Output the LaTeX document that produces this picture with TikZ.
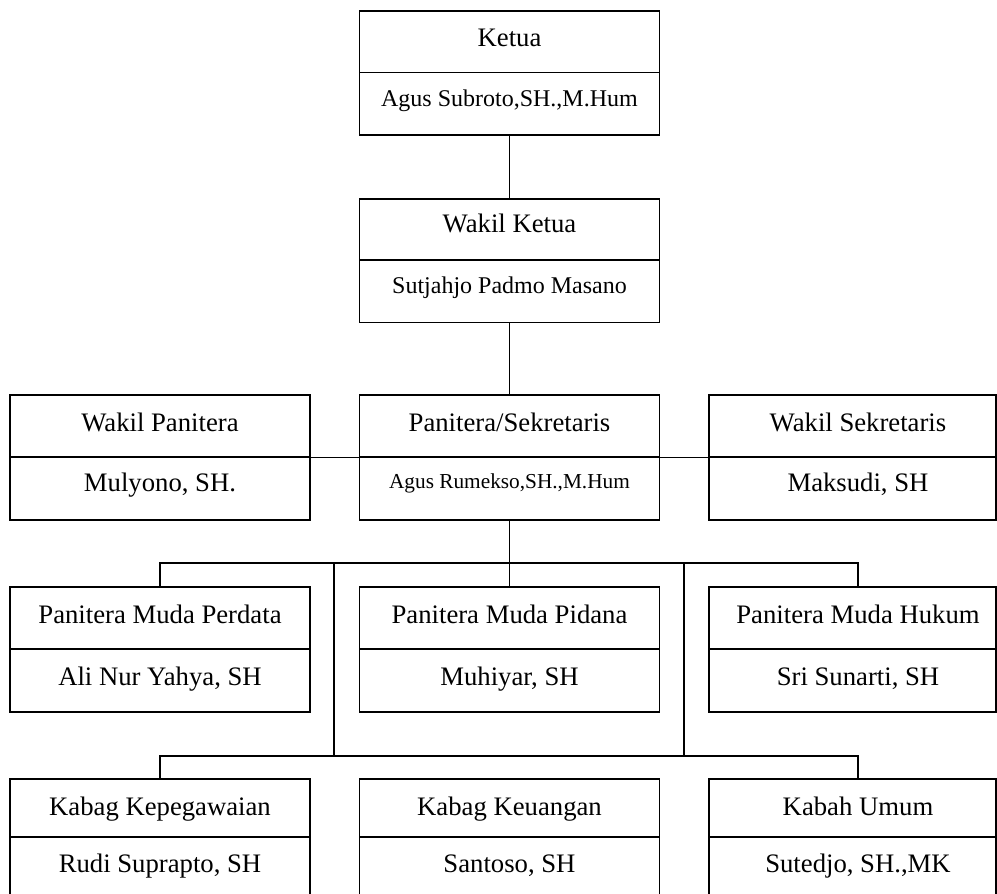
\documentclass[tikz,border=0pt]{standalone}
\usepackage{fontspec}
\setmainfont{Liberation Serif}
\begin{document}
\begin{tikzpicture}[x=1pt,y=-1pt,line width=1.3pt,
  half/.style={draw,rectangle,inner sep=0pt,minimum width=300pt,line width=1.3pt},
  halfr/.style={half,minimum width=287pt},
  lbl/.style={anchor=base,inner sep=0pt,font=\fontsize{26.7}{30}\selectfont},
  lbls/.style={lbl,font=\fontsize{24}{28}\selectfont},
  lblxs/.style={lbl,font=\fontsize{21.3}{25}\selectfont}]
\useasboundingbox (0,0) rectangle (997,894);
% Row 1
\node[half,minimum height=61.7pt] (kt) at (509.5,41.85) {};
\node[half,minimum height=62.3pt] (kn) at (509.5,103.85) {};
\node[lbl] (kttx) at (509.5,46.7) {Ketua};
\node[lbls] (kntx) at (509.5,106.7) {Agus Subroto,SH.,M.Hum};
% Row 2
\node[half,minimum height=61pt] (wkt) at (509.5,229.5) {};
\node[half,minimum height=62.7pt] (wkn) at (509.5,291.35) {};
\node[lbl] (wkttx) at (509.5,232) {Wakil Ketua};
\node[lbls] (wkntx) at (509.5,293) {Sutjahjo Padmo Masano};
% Row 3
\node[half,minimum height=62pt] (wpt) at (160,426) {};
\node[half,minimum height=63pt] (wpn) at (160,488.5) {};
\node[half,minimum height=62pt] (pst) at (509.5,426) {};
\node[half,minimum height=63pt] (psn) at (509.5,488.5) {};
\node[halfr,minimum height=62pt] (wst) at (852.5,426) {};
\node[halfr,minimum height=63pt] (wsn) at (852.5,488.5) {};
\node[lbl] (wpttx) at (160,431) {Wakil Panitera};
\node[lbl] (wpntx) at (160,491.5) {Mulyono, SH.};
\node[lbl] (psttx) at (509.5,431) {Panitera/Sekretaris};
\node[lblxs] (psntx) at (509.5,488) {Agus Rumekso,SH.,M.Hum};
\node[lbl] (wsttx) at (858,431) {Wakil Sekretaris};
\node[lbl] (wsntx) at (858,491.5) {Maksudi, SH};
% Row 4
\node[half,minimum height=62pt] (pmpet) at (160,618) {};
\node[half,minimum height=63pt] (pmpen) at (160,680.5) {};
\node[half,minimum height=62pt] (pmpit) at (509.5,618) {};
\node[half,minimum height=63pt] (pmpin) at (509.5,680.5) {};
\node[halfr,minimum height=62pt] (pmht) at (852.5,618) {};
\node[halfr,minimum height=63pt] (pmhn) at (852.5,680.5) {};
\node[lbl] (pmpettx) at (160,623) {Panitera Muda Perdata};
\node[lbl] (pmpentx) at (160,685) {Ali Nur Yahya, SH};
\node[lbl] (pmpittx) at (509.5,623) {Panitera Muda Pidana};
\node[lbl] (pmpintx) at (509.5,685) {Muhiyar, SH};
\node[lbl] (pmhttx) at (858,623) {Panitera Muda Hukum};
\node[lbl] (pmhntx) at (858,685) {Sri Sunarti, SH};
% Row 5
\node[half,minimum height=58pt] (kkt) at (160,808) {};
\node[half,minimum height=59pt] (kkn) at (160,866.5) {};
\node[half,minimum height=58pt] (kut) at (509.5,808) {};
\node[half,minimum height=59pt] (kun) at (509.5,866.5) {};
\node[halfr,minimum height=58pt] (kbt) at (852.5,808) {};
\node[halfr,minimum height=59pt] (kbn) at (852.5,866.5) {};
\node[lbl] (kkttx) at (160,815) {Kabag Kepegawaian};
\node[lbl] (kkntx) at (160,872) {Rudi Suprapto, SH};
\node[lbl] (kuttx) at (509.5,815) {Kabag Keuangan};
\node[lbl] (kuntx) at (509.5,872) {Santoso, SH};
\node[lbl] (kbttx) at (858,815) {Kabah Umum};
\node[lbl] (kbntx) at (858,872) {Sutedjo, SH.,MK};
% Connectors
\draw (kn.south) -- (wkt.north);
\draw (wkn.south) -- (pst.north);
\draw (wpt.south east) -- (pst.south west);
\draw (pst.south east) -- (wst.south west);
\draw (psn.south) -- (pmpit.north);
\coordinate (h1r) at (858,563);
\coordinate (h1l) at (160,563);
\draw (pmpet.north) -- (h1l) -- (h1r) -- (h1r |- pmht.north);
\coordinate (v1t) at (334,563);
\coordinate (v1b) at (334,756);
\coordinate (v2t) at (684,563);
\coordinate (v2b) at (684,756);
\draw (v1t) -- (v1b);
\draw (v2t) -- (v2b);
\coordinate (h2l) at (160,756);
\coordinate (h2r) at (858,756);
\draw (kkt.north) -- (h2l) -- (h2r) -- (h2r |- kbt.north);
\end{tikzpicture}
\end{document}
